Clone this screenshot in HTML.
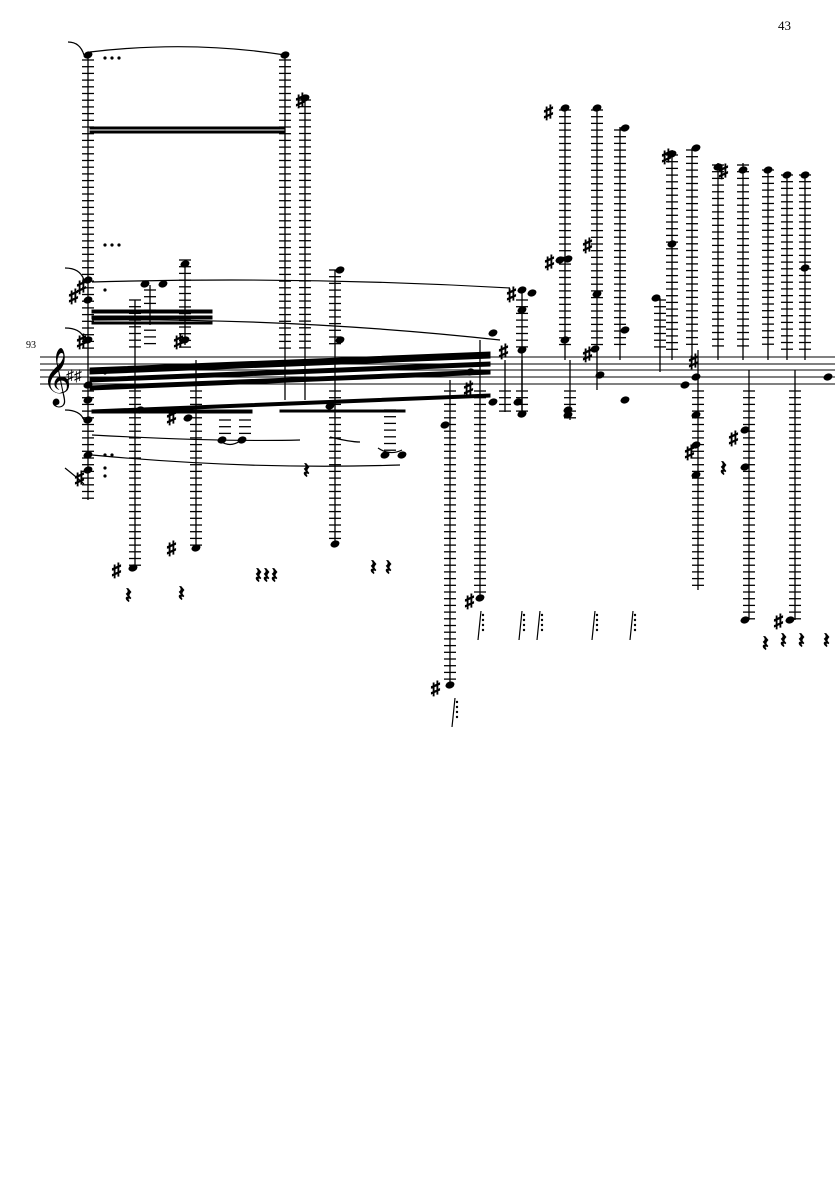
<!DOCTYPE html>
<html><head><meta charset="utf-8"><style>
html,body{margin:0;padding:0;background:#fff;width:835px;height:1181px;overflow:hidden}
svg{display:block}
text{font-family:"Liberation Serif",serif;fill:#000}
</style></head><body>
<svg id="s" width="835" height="1181" xmlns="http://www.w3.org/2000/svg">
<text x="778" y="30" font-size="13">43</text>
<text x="26" y="348" font-size="10">93</text>
<g stroke="#000" stroke-width="1">
<line x1="40" y1="357" x2="835" y2="357"/><line x1="40" y1="364" x2="835" y2="364"/>
<line x1="40" y1="370" x2="835" y2="370"/><line x1="40" y1="377" x2="835" y2="377"/>
<line x1="40" y1="384" x2="835" y2="384"/>
</g>
<text x="42" y="393" font-size="50" font-family="DejaVu Sans,sans-serif">𝄞</text>
<text x="66" y="381" font-size="16" font-family="DejaVu Sans,sans-serif">♯♯</text>
<g id="g" stroke="#000" fill="#000"></g>
<g fill="none" stroke="#000" stroke-width="1.2">
<path d="M90 52 Q190 40 285 55"/><path d="M68 42 Q80 42 84 55"/>
<path d="M92 282 Q300 276 510 288"/><path d="M92 320 Q300 318 500 340"/>
<path d="M92 435 Q220 442 300 440 M330 437 Q350 442 360 442"/>
<path d="M92 455 Q250 470 400 465"/><path d="M220 441 Q230 448 240 441"/>
<path d="M65 268 Q80 268 84 280"/><path d="M65 328 Q80 328 84 338"/><path d="M65 410 Q80 410 84 420"/>
<path d="M65 468 Q80 480 84 484"/><path d="M378 448 Q390 456 402 450"/>
</g>
<g fill="#000" stroke="#000">
<polygon points="90,368 490,352 490,358 90,374"/>
<polygon points="90,378 490,362 490,366 90,382"/>
<polygon points="90,386 490,370 490,374 90,390"/>
<polygon points="92,410 490,394 490,397 92,413"/>
<rect x="92" y="310" width="120" height="3"/><rect x="92" y="316" width="120" height="3"/><rect x="92" y="322" width="120" height="2"/>
<rect x="90" y="127" width="195" height="2"/><rect x="90" y="131" width="195" height="2"/>
<rect x="92" y="410" width="160" height="3"/>
<rect x="280" y="410" width="125" height="2"/>
</g>
</svg>
<script>
var g=document.getElementById('g'),h='';
function L(x,y1,y2){for(var y=y1;y<=y2;y+=6.7)h+='<line x1="'+(x-6)+'" y1="'+y+'" x2="'+(x+6)+'" y2="'+y+'" stroke-width="1.3"/>';}
function S(x,y1,y2,w){h+='<line x1="'+x+'" y1="'+y1+'" x2="'+x+'" y2="'+y2+'" stroke-width="'+(w||1.3)+'"/>';}
function N(x,y){h+='<ellipse cx="'+x+'" cy="'+y+'" rx="4.6" ry="3.4" transform="rotate(-20 '+x+' '+y+')" stroke="none"/>';}
function SH(x,y){h+='<text x="'+x+'" y="'+y+'" font-size="18" font-family="DejaVu Sans,sans-serif">♯</text>';}
function R(x,y){h+='<text x="'+x+'" y="'+y+'" font-size="22" font-family="DejaVu Sans,sans-serif">𝄽</text>';}
function C(x,t,b,st,sb,notes){if(t<350)L(x,t,350);if(b>390)L(x,391,b);S(x,st,sb);notes.forEach(function(n){N(n[0]||x,n[1]);});}
C(88,60,500,55,500,[[88,55],[88,280],[88,300],[88,340],[88,385],[88,400],[88,420],[88,455],[88,470]]);
C(285,60,350,55,400,[[285,55]]);
C(305,100,350,98,400,[[305,98]]);
C(135,300,568,300,568,[[133,568],[140,410]]);
C(150,290,325,285,325,[[145,284],[163,284]]);
C(185,260,345,264,345,[[185,264],[185,340]]);
C(196,420,548,360,548,[[196,548],[188,418]]);
C(335,270,545,270,545,[[340,270],[340,340],[335,544],[330,406]]);
L(225,420,440);L(245,420,440);N(222,440);N(242,440);
L(390,410,455);N(385,455);N(402,455);
C(450,400,685,380,685,[[450,685],[445,425]]);
C(480,400,598,340,598,[[480,598],[493,333],[493,402]]);
C(522,300,350,290,415,[[522,290],[522,310],[522,350],[522,414],[532,293]]);
C(565,110,350,105,360,[[565,108],[565,340],[560,260],[568,259]]);
C(597,110,350,105,390,[[597,108],[597,294],[595,349]]);
C(570,391,420,360,420,[[568,410],[568,415]]);
C(620,130,350,127,360,[[625,128],[625,330]]);
C(660,300,350,298,372,[[656,298]]);
C(672,155,350,150,360,[[672,154],[672,244]]);
C(692,150,350,148,360,[[696,148]]);
C(718,165,350,163,360,[[718,167]]);
C(743,165,350,163,360,[[743,170]]);
C(768,170,350,168,360,[[768,170]]);
C(787,175,350,173,360,[[787,175]]);
C(805,175,350,173,360,[[805,175],[805,268]]);
C(698,391,590,350,590,[[696,377],[696,415],[696,445],[696,475]]);
C(749,391,620,370,620,[[745,430],[745,467],[745,620]]);
C(795,391,620,370,620,[[790,620]]);
C(522,391,415,360,415,[[522,414]]);C(505,391,412,360,412,[[518,402]]);
N(600,375);N(625,400);N(685,385);N(828,377);N(470,372);
SH(77,292);SH(69,302);SH(77,347);SH(75,484);SH(112,576);SH(167,554);SH(174,347);SH(167,423);SH(296,106);SH(544,118);SH(545,268);SH(583,251);SH(583,360);SH(662,162);SH(689,367);SH(685,458);SH(719,177);SH(729,444);SH(774,627);SH(465,607);SH(431,694);SH(464,394);SH(499,357);SH(507,300);
[[125,603],[178,601],[255,583],[263,583],[271,583],[370,575],[385,575],[303,478],[720,476],[762,651],[780,648],[798,648],[823,648]].forEach(function(p){R(p[0],p[1]);});
[[478,635],[519,635],[537,635],[592,635],[630,635],[452,722]].forEach(function(p){h+='<line x1="'+(p[0]+3)+'" y1="'+(p[1]-24)+'" x2="'+p[0]+'" y2="'+(p[1]+5)+'" stroke-width="1.2"/>';for(var i=0;i<4;i++)h+='<circle cx="'+(p[0]+5)+'" cy="'+(p[1]-20+i*5)+'" r="1.2" stroke="none"/>';});
[[105,58],[112,58],[119,58],[105,245],[112,245],[119,245],[105,290],[105,373],[105,455],[112,455],[105,468],[105,476]].forEach(function(p){h+='<circle cx="'+p[0]+'" cy="'+p[1]+'" r="1.6" stroke="none"/>';});
g.innerHTML=h;
</script>
</body></html>
